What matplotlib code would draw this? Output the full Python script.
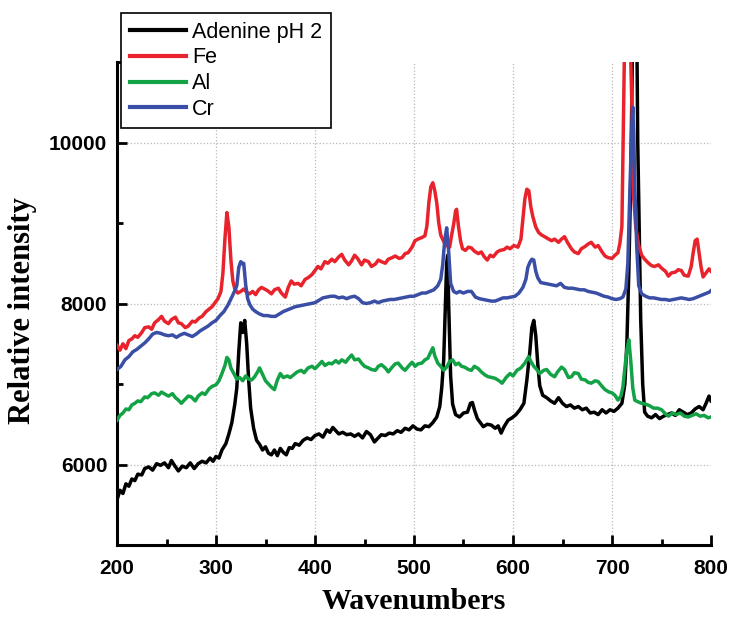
import matplotlib
matplotlib.use("Agg")
import matplotlib.pyplot as plt
from matplotlib.ticker import MultipleLocator

# ---------------- data ----------------
adenine_x = [200, 203, 206, 209, 212, 215, 218, 221, 225, 228, 232, 236, 240, 244, 248, 252, 255, 258, 262, 266,
             270, 274, 278, 282, 286, 290, 294, 297, 300, 303, 306, 310, 313, 316, 319, 321, 323, 325, 327, 329,
             331, 333, 335, 338, 341, 344, 347, 350, 353, 356, 359, 362, 365, 368, 371, 374, 377, 380, 384, 388,
             392, 396, 400, 404, 408, 412, 415, 418, 421, 424, 428, 432, 436, 440, 444, 448, 452, 456, 460, 463,
             467, 471, 475, 479, 483, 487, 491, 495, 499, 503, 507, 511, 515, 519, 523, 526, 528, 530, 532, 533,
             534, 535, 537, 539, 542, 546, 550, 554, 557, 559, 561, 564, 567, 570, 574, 578, 582, 585, 588, 591,
             595, 599, 603, 607, 611, 614, 617, 619, 621, 623, 625, 627, 630, 634, 638, 642, 646, 650, 654, 658,
             662, 666, 670, 674, 678, 682, 686, 690, 694, 698, 702, 706, 710, 713, 715, 717, 719, 720, 721, 723,
             725, 726, 727, 729, 731, 733, 736, 740, 744, 748, 752, 756, 760, 764, 768, 772, 776, 780, 784, 788,
             792, 795, 798, 800]
adenine_y = [5560, 5680, 5640, 5760, 5730, 5820, 5800, 5880, 5870, 5950, 5970, 5930, 6010, 5990, 6020, 5960, 6050, 5990, 5920, 5980,
             5960, 6020, 5950, 6010, 6040, 6020, 6080, 6040, 6100, 6080, 6180, 6260, 6380, 6520, 6750, 6950, 7400, 7760, 7640, 7790,
             7500, 7050, 6700, 6450, 6300, 6250, 6180, 6220, 6140, 6120, 6180, 6110, 6200, 6150, 6120, 6210, 6200, 6260, 6240, 6300,
             6330, 6310, 6360, 6380, 6340, 6430, 6400, 6460, 6420, 6380, 6400, 6370, 6380, 6350, 6380, 6330, 6410, 6370, 6280, 6320,
             6370, 6360, 6390, 6380, 6420, 6400, 6450, 6430, 6480, 6440, 6430, 6480, 6470, 6520, 6590, 6720, 6950, 7300, 8100, 8500,
             8600, 8000, 7100, 6750, 6620, 6590, 6640, 6650, 6760, 6770, 6680, 6570, 6520, 6470, 6500, 6490, 6450, 6480, 6390, 6470,
             6550, 6580, 6620, 6680, 6760, 7050, 7400, 7700, 7790, 7600, 7250, 6980, 6860, 6830, 6790, 6760, 6830, 6760, 6720, 6740,
             6700, 6720, 6680, 6700, 6640, 6650, 6620, 6680, 6640, 6680, 6660, 6700, 6760, 7000, 7500, 8400, 9600, 10500, 11500, 11500,
             11500, 10000, 9300, 7800, 7000, 6650, 6600, 6580, 6620, 6570, 6600, 6620, 6640, 6610, 6680, 6650, 6620, 6640, 6690, 6720,
             6680, 6760, 6850, 6790]

fe_x = [200, 203, 206, 209, 212, 215, 218, 221, 225, 228, 232, 235, 238, 242, 245, 248, 252, 255, 259, 262,
        265, 269, 272, 276, 279, 283, 286, 290, 293, 296, 299, 302, 305, 307, 309, 311, 313, 315, 317, 319,
        322, 325, 328, 331, 334, 337, 340, 343, 346, 349, 352, 356, 359, 363, 366, 370, 373, 376, 379, 383,
        386, 390, 393, 397, 400, 403, 406, 410, 413, 417, 420, 424, 427, 430, 434, 437, 440, 443, 447, 450,
        454, 457, 461, 464, 467, 471, 474, 478, 481, 485, 488, 491, 494, 498, 501, 504, 508, 511, 513, 515,
        517, 519, 521, 523, 525, 527, 530, 533, 536, 538, 540, 542, 543, 545, 547, 549, 552, 555, 558, 561,
        565, 568, 571, 574, 577, 580, 584, 587, 591, 594, 597, 601, 605, 608, 610, 612, 614, 616, 618, 620,
        623, 626, 629, 632, 636, 639, 642, 646, 649, 652, 655, 659, 662, 666, 669, 673, 676, 679, 683, 686,
        690, 693, 696, 700, 703, 706, 708, 710, 711, 713, 716, 718, 720, 721, 722, 724, 727, 730, 733, 737,
        740, 743, 747, 750, 754, 757, 760, 764, 767, 770, 773, 777, 780, 782, 784, 786, 788, 790, 792, 795,
        798, 800]
fe_y = [7480, 7420, 7500, 7440, 7540, 7560, 7600, 7580, 7640, 7700, 7710, 7680, 7760, 7800, 7840, 7780, 7750, 7800, 7830, 7760,
        7750, 7700, 7720, 7780, 7770, 7820, 7840, 7900, 7930, 7960, 8010, 8060, 8150, 8380, 8800, 9130, 8950, 8550, 8280, 8180,
        8130, 8150, 8180, 8140, 8120, 8150, 8110, 8170, 8200, 8180, 8160, 8120, 8170, 8190, 8130, 8080, 8200, 8280, 8240, 8250,
        8220, 8300, 8320, 8360, 8410, 8460, 8430, 8520, 8500, 8550, 8520, 8580, 8610, 8540, 8480, 8530, 8600, 8560, 8480, 8540,
        8520, 8460, 8490, 8540, 8520, 8500, 8550, 8570, 8590, 8560, 8570, 8620, 8630, 8700, 8780, 8800, 8820, 8840, 8960, 9250,
        9450, 9500, 9400, 9250, 9000, 8850, 8770, 8720, 8700, 8850, 8980, 9150, 9170, 8950, 8780, 8680, 8660, 8700, 8690, 8650,
        8620, 8640, 8580, 8540, 8600, 8580, 8640, 8660, 8670, 8700, 8680, 8720, 8700, 8800, 9050, 9300, 9420, 9400, 9200, 9080,
        8950, 8880, 8850, 8830, 8800, 8780, 8800, 8760, 8800, 8830, 8760, 8680, 8640, 8620, 8680, 8710, 8740, 8760, 8700, 8720,
        8640, 8590, 8570, 8560, 8600, 8630, 8750, 8960, 9800, 11500, 11500, 11500, 10500, 9800, 9300, 8950, 8720, 8600, 8550, 8500,
        8470, 8460, 8480, 8440, 8400, 8340, 8380, 8390, 8420, 8410, 8350, 8340, 8460, 8630, 8780, 8800, 8620, 8450, 8330, 8380,
        8430, 8400]

al_x = [200, 203, 206, 209, 212, 215, 218, 221, 224, 228, 231, 235, 238, 242, 245, 249, 252, 256, 259, 262,
        265, 268, 272, 275, 279, 282, 286, 289, 293, 296, 300, 303, 306, 309, 311, 313, 315, 318, 321, 324,
        327, 330, 333, 336, 339, 342, 344, 347, 350, 353, 356, 359, 362, 365, 368, 372, 375, 379, 382, 386,
        389, 393, 397, 400, 404, 407, 410, 414, 417, 421, 424, 427, 431, 434, 437, 440, 444, 447, 450, 454,
        457, 461, 464, 467, 471, 474, 478, 481, 484, 488, 491, 495, 498, 501, 504, 508, 511, 514, 517, 519,
        521, 524, 527, 530, 533, 536, 539, 542, 545, 548, 551, 555, 558, 561, 565, 568, 572, 575, 579, 582,
        586, 589, 593, 597, 600, 604, 608, 612, 614, 616, 618, 621, 624, 627, 631, 634, 638, 642, 645, 649,
        652, 656, 659, 662, 666, 669, 673, 676, 679, 683, 686, 690, 693, 697, 700, 703, 706, 709, 711, 713,
        715, 717, 719, 721, 723, 726, 730, 734, 738, 742, 746, 750, 754, 757, 761, 765, 769, 773, 777, 781,
        785, 789, 793, 797, 800]
al_y = [6550, 6610, 6640, 6690, 6680, 6740, 6760, 6790, 6780, 6840, 6830, 6880, 6890, 6860, 6900, 6870, 6850, 6880, 6830, 6800,
        6760, 6800, 6850, 6840, 6790, 6850, 6890, 6870, 6940, 6970, 6990, 7040, 7130, 7230, 7330, 7300, 7200, 7130, 7060, 7080,
        7040, 7100, 7060, 7050, 7090, 7150, 7200, 7120, 7040, 7000, 6960, 6930, 7050, 7130, 7080, 7100, 7080, 7120, 7150, 7170,
        7140, 7200, 7220, 7190, 7240, 7280, 7230, 7260, 7250, 7290, 7260, 7300, 7270, 7320, 7360, 7300, 7310, 7260, 7220, 7200,
        7180, 7170, 7220, 7240, 7200, 7150, 7210, 7250, 7260, 7200, 7170, 7230, 7270, 7220, 7250, 7260, 7300, 7320, 7400, 7450,
        7350, 7260, 7220, 7170, 7210, 7280, 7300, 7240, 7260, 7220, 7210, 7180, 7170, 7220, 7190, 7150, 7110, 7090, 7080, 7070,
        7040, 7010, 7080, 7130, 7100, 7170, 7200, 7260, 7300, 7340, 7280, 7220, 7180, 7130, 7170, 7180, 7120, 7090, 7150, 7210,
        7180, 7080, 7090, 7140, 7130, 7060, 7050, 7020, 7010, 7040, 7030, 6970, 6930, 6900, 6890, 6860, 6800, 6850, 6960, 7200,
        7420, 7550, 7280, 6950, 6800, 6780, 6760, 6750, 6730, 6700, 6700, 6680, 6630, 6600, 6640, 6620, 6640, 6600, 6590, 6610,
        6630, 6600, 6610, 6580, 6590]

cr_x = [200, 204, 208, 212, 216, 220, 224, 228, 232, 236, 240, 244, 248, 252, 256, 260, 264, 268, 272, 276,
        280, 284, 288, 292, 296, 300, 304, 308, 312, 316, 319, 321, 323, 325, 327, 328, 330, 332, 334, 337,
        340, 344, 348, 352, 356, 360, 364, 368, 372, 376, 380, 384, 388, 392, 396, 400, 404, 408, 412, 416,
        420, 424, 428, 432, 436, 440, 444, 448, 452, 456, 460, 464, 468, 472, 476, 480, 484, 488, 492, 496,
        500, 504, 508, 512, 516, 520, 524, 527, 529, 531, 533, 535, 537, 540, 543, 546, 550, 554, 558, 562,
        566, 570, 574, 578, 582, 586, 590, 594, 598, 602, 606, 610, 613, 615, 617, 619, 621, 623, 625, 628,
        632, 636, 640, 644, 648, 652, 656, 660, 664, 668, 672, 676, 680, 684, 688, 692, 696, 700, 704, 708,
        711, 714, 716, 718, 720, 721, 722, 723, 725, 727, 730, 734, 738, 742, 746, 750, 754, 758, 762, 766,
        770, 774, 778, 782, 786, 790, 794, 798, 800]
cr_y = [7180, 7220, 7300, 7340, 7400, 7430, 7470, 7510, 7560, 7620, 7640, 7630, 7610, 7600, 7610, 7580, 7610, 7630, 7610, 7590,
        7620, 7660, 7690, 7720, 7760, 7790, 7850, 7900, 7980, 8080, 8160, 8220, 8450, 8520, 8490, 8500, 8230, 8060, 7990, 7930,
        7900, 7870, 7850, 7850, 7840, 7840, 7870, 7900, 7920, 7940, 7960, 7970, 7980, 7990, 8000, 8010, 8040, 8070, 8080, 8090,
        8090, 8070, 8080, 8060, 8080, 8090, 8060, 8010, 8000, 8010, 8030, 8010, 8030, 8040, 8050, 8050, 8060, 8070, 8080, 8090,
        8090, 8110, 8130, 8130, 8150, 8170, 8220, 8300, 8480, 8780, 8940, 8650, 8250, 8150, 8130, 8150, 8130, 8150, 8150, 8080,
        8060, 8050, 8040, 8030, 8030, 8050, 8070, 8070, 8080, 8090, 8130, 8200, 8300, 8450, 8510, 8550, 8540, 8400, 8320, 8260,
        8250, 8240, 8230, 8220, 8250, 8200, 8190, 8190, 8180, 8170, 8170, 8150, 8140, 8130, 8110, 8090, 8080, 8060, 8050, 8060,
        8080, 8180, 8500, 9380, 10200, 10440, 10100, 9460, 8700, 8220, 8120, 8090, 8070, 8070, 8060, 8050, 8050, 8040, 8050, 8060,
        8070, 8060, 8050, 8060, 8080, 8100, 8120, 8140, 8160]

series_labels = ["Adenine pH 2", "Fe", "Al", "Cr"]
x_ticks = [200, 300, 400, 500, 600, 700, 800]
y_ticks = [6000, 8000, 10000]

# ---------------- figure ----------------
fig = plt.figure(figsize=(7.33, 6.18), dpi=100)
ax = fig.add_axes([117 / 733, 73 / 618, 594 / 733, 483 / 618])

colors = ["#000000", "#e8232c", "#14a246", "#3a4ea6"]
lw = 2.5
h1, = ax.plot(adenine_x, adenine_y, color=colors[0], lw=lw, label=series_labels[0], zorder=3)
h2, = ax.plot(fe_x, fe_y, color=colors[1], lw=lw, label=series_labels[1], zorder=3)
h3, = ax.plot(al_x, al_y, color=colors[2], lw=lw, label=series_labels[2], zorder=3)
h4, = ax.plot(cr_x, cr_y, color=colors[3], lw=lw, label=series_labels[3], zorder=3)

ax.set_xlim(200, 800)
ax.set_ylim(5000, 11000)
ax.set_xticks(x_ticks)
ax.set_yticks(y_ticks)
ax.xaxis.set_minor_locator(MultipleLocator(50))
ax.yaxis.set_minor_locator(MultipleLocator(1000))

for s in ["top", "right"]:
    ax.spines[s].set_visible(False)
for s in ["left", "bottom"]:
    ax.spines[s].set_linewidth(2.2)

ax.tick_params(which="major", direction="in", length=7, width=2.0)
ax.tick_params(which="minor", direction="in", length=4, width=2.0)
ax.tick_params(axis="x", which="major", pad=10)
ax.tick_params(axis="y", which="major", pad=7)
for lab in ax.get_xticklabels() + ax.get_yticklabels():
    lab.set_fontfamily("Liberation Sans")
    lab.set_fontweight("bold")
    lab.set_fontsize(15)

ax.grid(True, which="major", linestyle=":", color="#b8b8b8", linewidth=0.9, zorder=0)
ax.set_axisbelow(True)
xgl = ax.xaxis.get_gridlines()
xgl[0].set_visible(False)
xgl[-1].set_visible(False)

ax.set_xlabel("Wavenumbers", fontfamily="Liberation Serif", fontweight="bold", fontsize=21.5)
ax.set_ylabel("Relative intensity", fontfamily="Liberation Serif", fontweight="bold", fontsize=22)
ax.xaxis.set_label_coords(0.5, -43 / 483)
ax.yaxis.set_label_coords(-80 / 594, (545 - 311) / 483)

leg = fig.legend(handles=[h1, h2, h3, h4], labels=series_labels,
                 loc="upper left", bbox_to_anchor=(121 / 733, 1 - 13 / 618),
                 bbox_transform=fig.transFigure, borderaxespad=0,
                 fancybox=False, frameon=True, framealpha=1, edgecolor="#000000",
                 prop={"family": "Liberation Sans", "size": 15.5},
                 handlelength=2.6, handletextpad=0.3, borderpad=0.4, labelspacing=0.22)
leg.get_frame().set_linewidth(1.2)
for line in leg.get_lines():
    line.set_linewidth(3)

fig.savefig("out.png", dpi=100)
